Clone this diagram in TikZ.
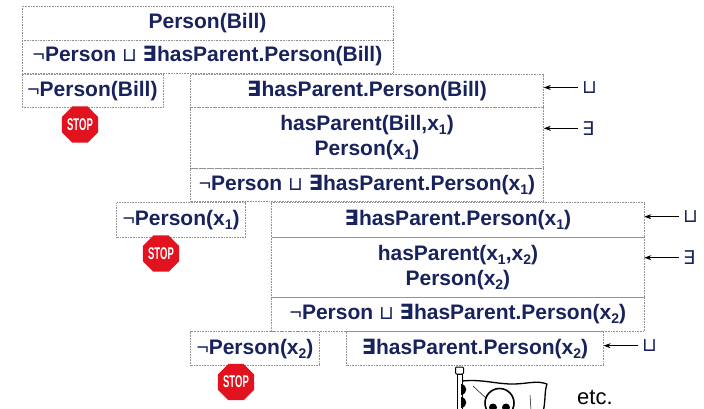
\documentclass[tikz,border=0pt]{standalone}
\usepackage{graphicx}
\usepackage{fontspec}
\setmainfont{Liberation Sans}
\newfontfamily\symfont{DejaVu Sans}
\usetikzlibrary{arrows.meta,shapes.geometric}

\definecolor{textnavy}{RGB}{24,34,92}
\definecolor{stopred}{RGB}{226,18,30}
\definecolor{rimgray}{RGB}{80,80,80}

% logical symbols used inside the tableau cells
\newcommand\dneg{{\mdseries ¬}}
\newcommand\djoin{{\symfont\mdseries\fontsize{19}{19}\selectfont ⊔}}
\newcommand\dex{{\symfont\bfseries ∃}}
\newcommand\lowidx[1]{\raisebox{-4pt}{\fontsize{14}{14}\selectfont #1}}

\tikzset{
  cell/.style={draw=gray!85, densely dotted, line width=0.6pt, inner sep=0pt,
    text=textnavy, align=center, font=\fontsize{21}{25}\selectfont\bfseries},
  rulelab/.style={text=textnavy, inner sep=0pt, anchor=west,
    font=\symfont\fontsize{19}{19}\selectfont},
  ruleedge/.style={-{Stealth[length=7pt,width=5pt]}, line width=0.6pt},
  octagon/.style={regular polygon, regular polygon sides=8, inner sep=0pt},
  pics/stopsign/.style={code={
    \node[octagon, fill=rimgray, minimum size=37pt] (-rim) {};
    \node[octagon, fill=white, minimum size=35pt] (-ring) {};
    \node[octagon, fill=stopred, minimum size=31.5pt, text=white,
      font=\fontsize{17}{17}\selectfont\bfseries] (-face) {\scalebox{0.56}[1]{STOP}};
  }}
}

\begin{document}
\begin{tikzpicture}[x=1pt,y=-1pt]
\useasboundingbox (0,0) rectangle (704,408);

% root branch
\node[cell, minimum width=371pt, minimum height=34pt] (b1) at (207.5,23) {Person(Bill)};
\node[cell, minimum width=371pt, minimum height=33pt] (b2) at (207.5,56.5)
  {\dneg Person \djoin\ \dex hasParent.Person(Bill)};

% first split
\node[cell, minimum width=141pt, minimum height=33.5pt] (b3) at (92.5,90.8) {\dneg Person(Bill)};
\node[cell, minimum width=353pt, minimum height=33pt] (b4) at (367,91) {\dex hasParent.Person(Bill)};
\node[cell, minimum width=353pt, minimum height=60.8pt] (b5) at (367,137.9)
  {hasParent(Bill,x\lowidx{1})\\Person(x\lowidx{1})};
\node[cell, minimum width=353pt, minimum height=32.7pt] (b6) at (367,184.6)
  {\dneg Person \djoin\ \dex hasParent.Person(x\lowidx{1})};

% second split
\node[cell, minimum width=128.8pt, minimum height=34.6pt] (b7) at (181.1,220) {\dneg Person(x\lowidx{1})};
\node[cell, minimum width=372.3pt, minimum height=34.6pt] (b8) at (457.9,220)
  {\dex hasParent.Person(x\lowidx{1})};
\node[cell, minimum width=372.3pt, minimum height=60pt] (b9) at (457.9,267.3)
  {hasParent(x\lowidx{1},x\lowidx{2})\\Person(x\lowidx{2})};
\node[cell, minimum width=372.3pt, minimum height=34.2pt] (b10) at (457.9,314.4)
  {\dneg Person \djoin\ \dex hasParent.Person(x\lowidx{2})};

% third split
\node[cell, minimum width=128.6pt, minimum height=34.2pt] (b11) at (255,348.6) {\dneg Person(x\lowidx{2})};
\node[cell, minimum width=256.6pt, minimum height=34.2pt] (b12) at (475,348.6)
  {\dex hasParent.Person(x\lowidx{2})};

% closed branches
\pic (stopA) at (80,124.5) {stopsign};
\pic (stopB) at (161,253.5) {stopsign};
\pic (stopC) at (236,382) {stopsign};

% rule labels
\node[rulelab] (r1) at (582,87.5) {⊔};
\node[rulelab] (r2) at (582,128.3) {∃};
\node[rulelab] (r3) at (683,216.7) {⊔};
\node[rulelab] (r4) at (683,257.7) {∃};
\node[rulelab] (r5) at (642,345.7) {⊔};
\draw[ruleedge] ([xshift=-4pt]r1.west) -- (r1.west -| b4.east);
\draw[ruleedge] ([xshift=-4pt]r2.west) -- (r2.west -| b5.east);
\draw[ruleedge] ([xshift=-4pt]r3.west) -- (r3.west -| b8.east);
\draw[ruleedge] ([xshift=-4pt]r4.west) -- (r4.west -| b9.east);
\draw[ruleedge] ([xshift=-4pt]r5.west) -- (r5.west -| b12.east);

% pirate flag: the tableau goes on forever
\begin{scope}
\clip (0,0) rectangle (704,408);
\draw[line width=1pt, fill=white] (457,374) rectangle (462,412);
\draw[line width=1pt, fill=white, rounded corners=1pt] (455.5,367) rectangle (463.5,374);
\fill (461,384) .. controls (468,385) and (468,394) .. (461,395) -- cycle;
\fill (461,397) .. controls (468,398) and (468,407) .. (461,408) -- cycle;
\draw[line width=1.3pt, line join=round] (462,381) .. controls (482,379) and (496,384) .. (512,384)
  .. controls (528,384) and (536,380) .. (547,384)
  .. controls (544,393) and (546,400) .. (543,412);
\draw[line width=0.5pt] (473,386) -- (489,401);
\draw[line width=0.5pt] (530,395) -- (531,410);
\draw[line width=1.6pt, fill=white] (499.5,403) ellipse [x radius=14.5, y radius=14.5];
\fill (493,407.5) circle (4);
\fill (506,407.5) circle (4);
\end{scope}
\node[font=\fontsize{22}{22}\selectfont, inner sep=0pt, text depth=0pt, anchor=base west] (etc) at (577,404) {etc.};

\end{tikzpicture}
\end{document}
